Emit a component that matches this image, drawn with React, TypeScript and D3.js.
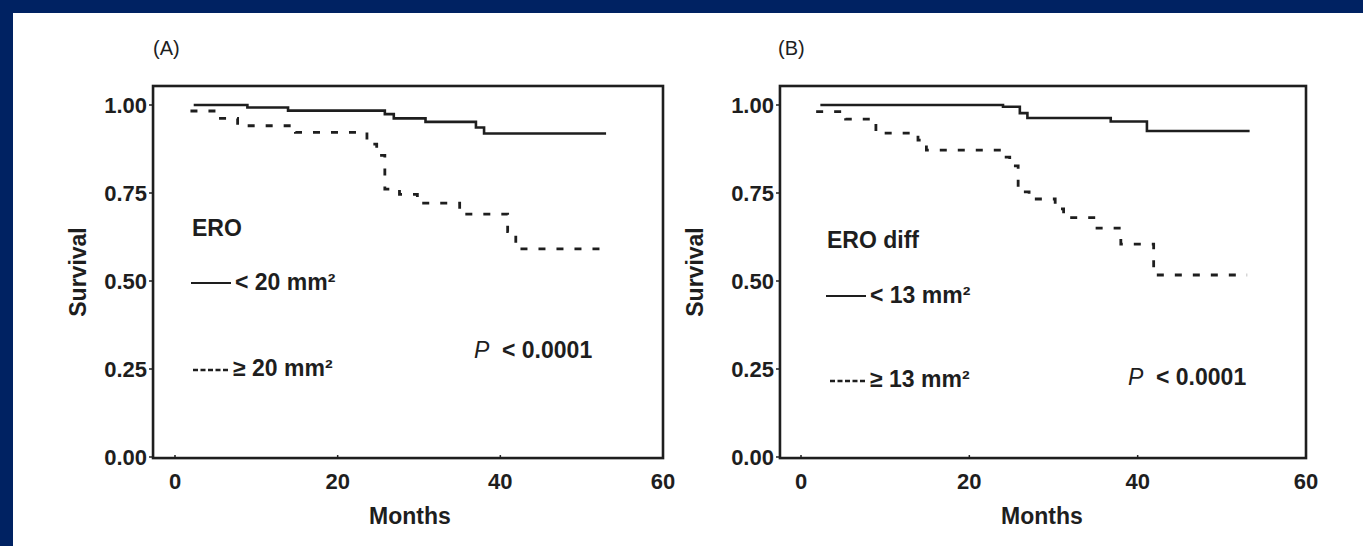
import React from "react";
import * as d3 from "d3";

// Axis ticks shared by both panels
const monthTicks = [0, 20, 40, 60];
const survivalTicks = [0, 0.25, 0.5, 0.75, 1.0];
const survivalTickLabels = ["0.00", "0.25", "0.50", "0.75", "1.00"];

// Panel A: ERO < 20 mm² (solid) and ≥ 20 mm² (dashed)
const eroSmallMonths = [2.3, 8.9, 13.9, 25.8, 26.9, 30.8, 37.0, 38.0, 53.0];
const eroSmallSurvival = [1.0, 0.993, 0.984, 0.974, 0.962, 0.952, 0.936, 0.919, 0.919];
const eroLargeMonths = [1.9, 5.2, 7.7, 14.8, 23.6, 24.8, 25.8, 27.6, 29.8, 35.0, 40.9, 41.9, 53.0];
const eroLargeSurvival = [0.983, 0.962, 0.941, 0.922, 0.889, 0.857, 0.761, 0.746, 0.721, 0.69, 0.64, 0.591, 0.591];

// Panel B: ERO diff < 13 mm² (solid) and ≥ 13 mm² (dashed)
const diffSmallMonths = [2.3, 24.0, 26.0, 26.9, 36.8, 41.1, 53.3];
const diffSmallSurvival = [1.0, 0.995, 0.977, 0.963, 0.953, 0.926, 0.926];
const diffLargeMonths = [1.8, 5.3, 8.9, 13.9, 14.9, 23.8, 24.8, 25.8, 27.1, 30.2, 31.2, 35.0, 38.0, 41.9, 53.0];
const diffLargeSurvival = [0.981, 0.96, 0.92, 0.9, 0.872, 0.852, 0.827, 0.753, 0.733, 0.705, 0.68, 0.65, 0.605, 0.517, 0.517];

const panelLetters = ["(A)", "(B)"];
const groupTitles = ["ERO", "ERO diff"];
const lowLabels = ["< 20 mm²", "< 13 mm²"];
const highLabels = ["≥ 20 mm²", "≥ 13 mm²"];
const pValueText = "< 0.0001";

const INK = "#1e1e1e";
const FONT = "'Liberation Sans', Arial, Helvetica, sans-serif";
const WIDTH = 1363;
const HEIGHT = 546;

type Series = { months: number[]; survival: number[] };

type PanelProps = {
  index: number;
  xRange: [number, number];
  xMin: number;
  solid: Series;
  dashed: Series;
  letterPos: [number, number];
  ylabelX: number;
  xlabelX: number;
  titlePos: [number, number];
  lowPos: [number, number];
  highPos: [number, number];
  pPos: [number, number];
};

function toPoints(s: Series): [number, number][] {
  return s.months.map((m, i) => [m, s.survival[i]] as [number, number]);
}

function Panel(p: PanelProps) {
  const x = d3.scaleLinear().domain([0, 60]).range(p.xRange);
  const y = d3.scaleLinear().domain([0, 1]).range([457, 105]);
  const left = x(p.xMin);
  const right = x(60);
  const top = y(1.054);
  const bottom = y(-0.003);

  const line = d3
    .line<[number, number]>()
    .x((d) => x(d[0]))
    .y((d) => y(d[1]))
    .curve(d3.curveStepAfter);

  return (
    <g>
      <text x={p.letterPos[0]} y={p.letterPos[1]} fontSize={20} fontFamily={FONT} fill={INK} dominantBaseline="central">
        {panelLetters[p.index]}
      </text>

      {/* plot frame */}
      <rect x={left} y={top} width={right - left} height={bottom - top} fill="none" stroke={INK} strokeWidth={2.6} />

      {/* y axis ticks and labels */}
      {survivalTicks.map((t, i) => (
        <g key={"y" + i}>
          <line x1={left - 4} x2={left} y1={y(t)} y2={y(t)} stroke={INK} strokeWidth={1.5} />
          <text
            x={left - 6}
            y={y(t)}
            textAnchor="end"
            dominantBaseline="central"
            fontSize={22}
            fontWeight="bold"
            fontFamily={FONT}
            fill={INK}
          >
            {survivalTickLabels[i]}
          </text>
        </g>
      ))}

      {/* x axis ticks and labels */}
      {monthTicks.map((t) => (
        <g key={"x" + t}>
          <line x1={x(t)} x2={x(t)} y1={bottom - 3} y2={bottom} stroke={INK} strokeWidth={1.5} />
          <text
            x={x(t)}
            y={481}
            textAnchor="middle"
            dominantBaseline="central"
            fontSize={22}
            fontWeight="bold"
            fontFamily={FONT}
            fill={INK}
          >
            {t}
          </text>
        </g>
      ))}

      <text
        x={p.xlabelX}
        y={516}
        textAnchor="middle"
        dominantBaseline="central"
        fontSize={23}
        fontWeight="bold"
        fontFamily={FONT}
        fill={INK}
      >
        Months
      </text>
      <text
        transform={`translate(${p.ylabelX},272) rotate(-90)`}
        textAnchor="middle"
        dominantBaseline="central"
        fontSize={23}
        fontWeight="bold"
        fontFamily={FONT}
        fill={INK}
      >
        Survival
      </text>

      {/* Kaplan–Meier curves */}
      <path d={line(toPoints(p.solid)) || ""} fill="none" stroke={INK} strokeWidth={2.6} />
      <path
        d={line(toPoints(p.dashed)) || ""}
        fill="none"
        stroke={INK}
        strokeWidth={2.8}
        strokeDasharray="7 11"
      />

      {/* legend */}
      <text x={p.titlePos[0]} y={p.titlePos[1]} dominantBaseline="central" fontSize={23} fontWeight="bold" fontFamily={FONT} fill={INK}>
        {groupTitles[p.index]}
      </text>
      <line x1={p.lowPos[0]} x2={p.lowPos[0] + 40} y1={p.lowPos[1]} y2={p.lowPos[1]} stroke={INK} strokeWidth={2.2} />
      <text x={p.lowPos[0] + 44} y={p.lowPos[1] - 1} dominantBaseline="central" fontSize={23} fontWeight="bold" fontFamily={FONT} fill={INK}>
        {lowLabels[p.index]}
      </text>
      <line
        x1={p.highPos[0]}
        x2={p.highPos[0] + 36}
        y1={p.highPos[1]}
        y2={p.highPos[1]}
        stroke={INK}
        strokeWidth={2.6}
        strokeDasharray="5 2.5"
      />
      <text x={p.highPos[0] + 40} y={p.highPos[1] - 2} dominantBaseline="central" fontSize={23} fontWeight="bold" fontFamily={FONT} fill={INK}>
        {highLabels[p.index]}
      </text>

      <text x={p.pPos[0]} y={p.pPos[1]} dominantBaseline="central" fontSize={23} fontStyle="italic" fontFamily={FONT} fill={INK}>
        P
      </text>
      <text x={p.pPos[0] + 28} y={p.pPos[1]} dominantBaseline="central" fontSize={23} fontWeight="bold" fontFamily={FONT} fill={INK}>
        {pValueText}
      </text>
    </g>
  );
}

export default function App() {
  return (
    <svg
      width={WIDTH}
      height={HEIGHT}
      style={{ position: "absolute", left: 0, top: 0, display: "block" }}
    >
      <rect x={0} y={0} width={WIDTH} height={HEIGHT} fill="#002262" />
      <rect x={13} y={13} width={WIDTH - 13} height={HEIGHT - 13} fill="#ffffff" />

      <Panel
        index={0}
        xRange={[175, 663]}
        xMin={-2.7}
        solid={{ months: eroSmallMonths, survival: eroSmallSurvival }}
        dashed={{ months: eroLargeMonths, survival: eroLargeSurvival }}
        letterPos={[153, 48]}
        ylabelX={78}
        xlabelX={410}
        titlePos={[192, 228]}
        lowPos={[191, 283]}
        highPos={[193, 370]}
        pPos={[474, 350]}
      />
      <Panel
        index={1}
        xRange={[801, 1306]}
        xMin={-2.5}
        solid={{ months: diffSmallMonths, survival: diffSmallSurvival }}
        dashed={{ months: diffLargeMonths, survival: diffLargeSurvival }}
        letterPos={[778, 48]}
        ylabelX={695}
        xlabelX={1042}
        titlePos={[827, 240]}
        lowPos={[826, 296]}
        highPos={[830, 381]}
        pPos={[1128, 377]}
      />
    </svg>
  );
}
